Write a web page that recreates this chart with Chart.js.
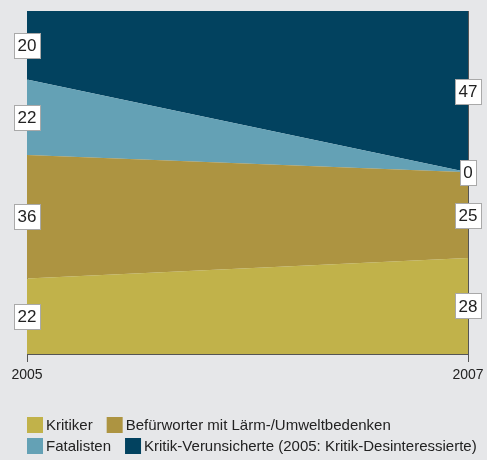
<!DOCTYPE html>
<html>
<head>
<meta charset="utf-8">
<script src="https://cdn.jsdelivr.net/npm/chart.js@4.4.1/dist/chart.umd.min.js"></script>
<style>
  html, body { margin: 0; padding: 0; background: #e6e7e9; }
  canvas { display: block; }
</style>
</head>
<body>
<canvas id="chart" width="487" height="460"></canvas>
<script>
const years = ["2005", "2007"];
const seriesNames = [
  "Kritiker",
  "Befürworter mit Lärm-/Umweltbedenken",
  "Fatalisten",
  "Kritik-Verunsicherte (2005: Kritik-Desinteressierte)"
];
const kritiker = [22, 28];
const befuerworter = [36, 25];
const fatalisten = [22, 0];
const verunsicherte = [20, 47];
const seriesColors = ["#c1b24a", "#ad9441", "#64a1b5", "#02425f"];

const seriesValues = [kritiker, befuerworter, fatalisten, verunsicherte];

// white boxed numbers centred in each band on the axis lines
const bandLabels = {
  id: "bandLabels",
  afterDatasetsDraw(chart) {
    const ctx = chart.ctx;
    const xs = chart.scales.x, ys = chart.scales.y;
    ctx.save();
    ctx.font = "17px 'Liberation Sans', Arial, sans-serif";
    ctx.textAlign = "center";
    ctx.textBaseline = "middle";
    years.forEach((yr, j) => {
      let cum = 0;
      seriesValues.forEach(vals => {
        const v = vals[j];
        const x = xs.getPixelForValue(j);
        const y = ys.getPixelForValue(cum + v / 2);
        cum += v;
        const txt = String(v);
        const w = ctx.measureText(txt).width + 7;
        const h = 25;
        ctx.fillStyle = "#ffffff";
        ctx.fillRect(Math.round(x - w / 2) + 0.5, Math.round(y - h / 2) + 0.5, Math.round(w), h);
        ctx.strokeStyle = "#a9a9a9";
        ctx.lineWidth = 1;
        ctx.strokeRect(Math.round(x - w / 2) + 0.5, Math.round(y - h / 2) + 0.5, Math.round(w), h);
        ctx.fillStyle = "#222222";
        ctx.fillText(txt, x, y + 1);
      });
    });
    ctx.restore();
  }
};

// legend drawn in two rows under the axis
const bottomLegend = {
  id: "bottomLegend",
  afterDraw(chart) {
    const ctx = chart.ctx;
    ctx.save();
    ctx.font = "15px 'Liberation Sans', Arial, sans-serif";
    ctx.textBaseline = "middle";
    ctx.textAlign = "left";
    const rows = [[0, 1], [2, 3]];
    const rowTops = [417, 438];
    rows.forEach((row, r) => {
      let x = 27;
      row.forEach(i => {
        ctx.fillStyle = seriesColors[i];
        ctx.fillRect(x, rowTops[r], 16, 16);
        ctx.fillStyle = "#222222";
        ctx.fillText(seriesNames[i], x + 19, rowTops[r] + 9);
        x += 19 + ctx.measureText(seriesNames[i]).width + 14;
      });
    });
    ctx.restore();
  }
};

new Chart(document.getElementById("chart"), {
  type: "line",
  data: {
    labels: years,
    datasets: seriesValues.map((vals, i) => ({
      label: seriesNames[i],
      data: vals,
      backgroundColor: seriesColors[i],
      borderWidth: 0,
      pointRadius: 0,
      tension: 0,
      fill: i === 0 ? "origin" : "-1"
    }))
  },
  options: {
    responsive: false,
    animation: false,
    layout: { padding: { left: 27, right: 19, top: 11, bottom: 0 } },
    plugins: {
      legend: { display: false },
      tooltip: { enabled: false }
    },
    scales: {
      x: {
        offset: false,
        z: 1,
        grid: { color: "#555555", lineWidth: 1, tickLength: 8, drawOnChartArea: true },
        border: { display: true, color: "#555555" },
        ticks: {
          color: "#222222",
          padding: 5,
          maxRotation: 0,
          font: { family: "'Liberation Sans', Arial, sans-serif", size: 14 }
        },
        afterFit(scale) {
          scale.height = 106;
          scale.paddingLeft = 0;
          scale.paddingRight = 0;
        }
      },
      y: {
        display: false,
        stacked: true,
        min: 0,
        max: 100
      }
    }
  },
  plugins: [bandLabels, bottomLegend]
});
</script>
</body>
</html>
